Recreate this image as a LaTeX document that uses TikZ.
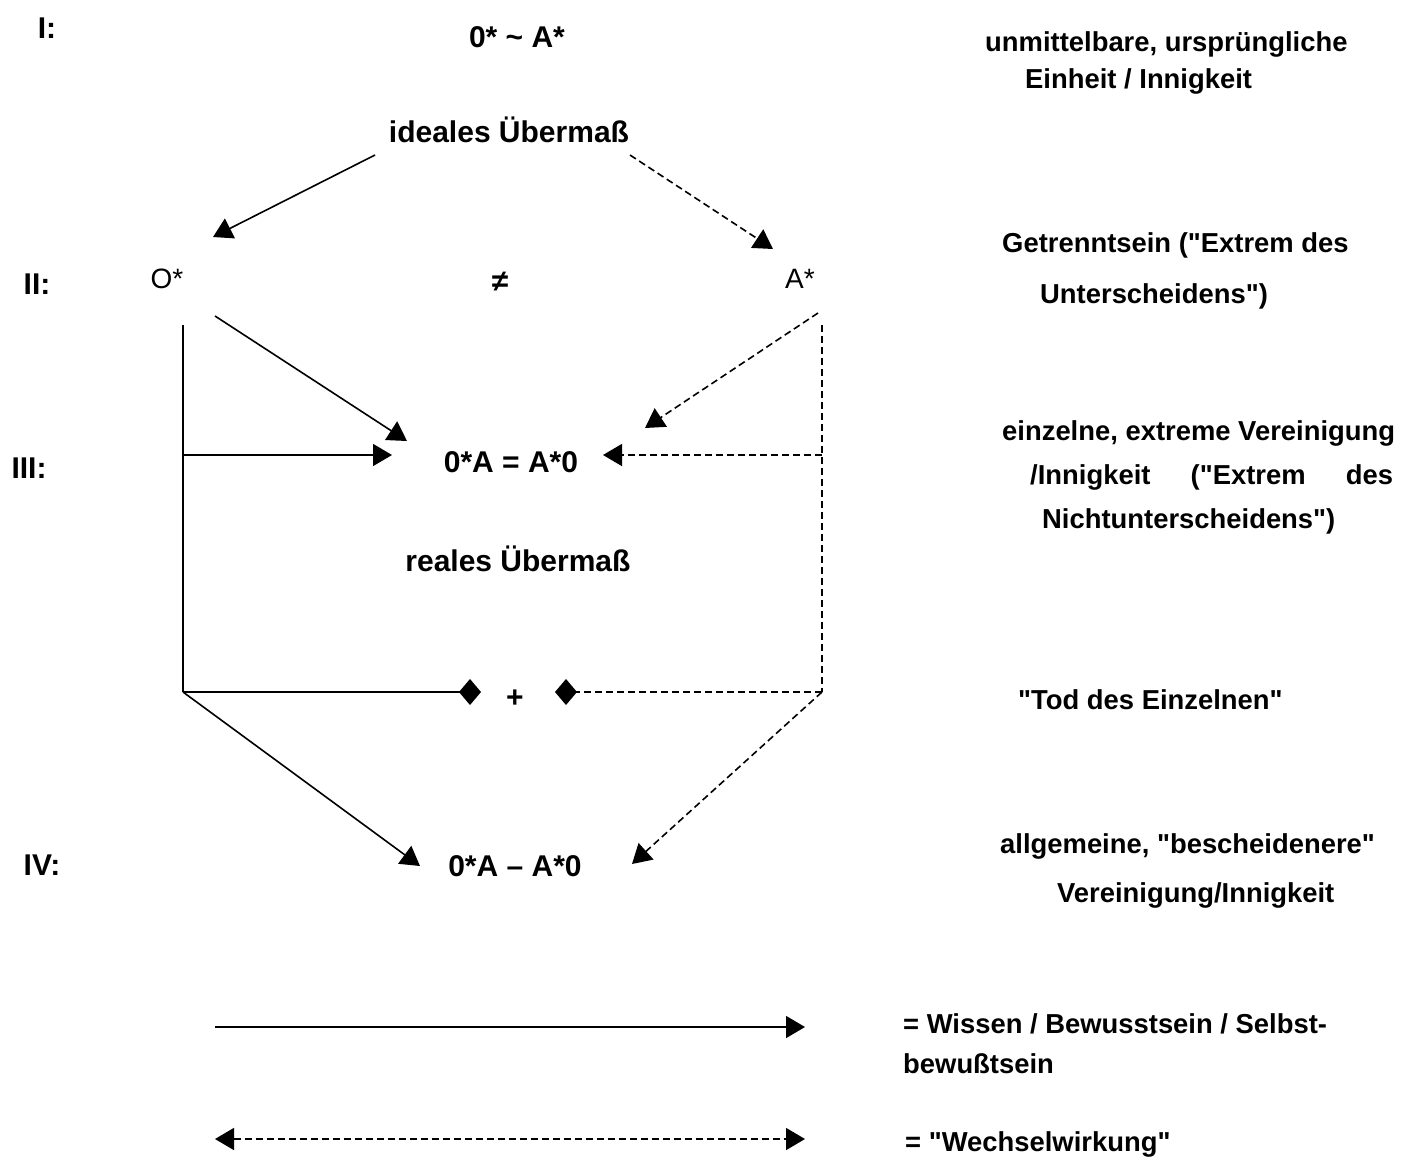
\documentclass[tikz,border=0pt]{standalone}
\usepackage{fontspec}
\setmainfont{Liberation Sans}[Ligatures=TeXOff]
\usetikzlibrary{arrows.meta}
\tikzset{
  rtext/.style={font=\fontsize{27.4}{32}\selectfont\bfseries, anchor=west, inner sep=0pt, text height=19pt, text depth=6pt},
  ctext/.style={font=\fontsize{30}{34}\selectfont\bfseries, inner sep=0pt, text height=21pt, text depth=0pt},
  ptext/.style={font=\fontsize{28}{32}\selectfont, inner sep=0pt, text height=20pt, text depth=0pt},
  seg/.style={line width=1.6pt},
  dseg/.style={seg, dash pattern=on 7pt off 4pt},
  conn/.style={seg, -{Triangle[length=19pt,width=22pt]}},
  dconn/.style={dseg, -{Triangle[length=19pt,width=22pt]}},
  dconnb/.style={dseg, {Triangle[length=19pt,width=22pt]}-{Triangle[length=19pt,width=22pt]}},
  dmd/.style={-{Diamond[length=22pt,width=26pt]}},
}
\begin{document}
\begin{tikzpicture}[x=1pt,y=-1pt]
\useasboundingbox (0,0) rectangle (1411,1160);

% level labels
\node[ctext] (l1) at (47,28) {I:};
\node[ctext] (l2) at (37,284) {II:};
\node[ctext] (l3) at (29,468) {III:};
\node[ctext] (l4) at (42,865) {IV:};

% central labels
\node[ctext] (top) at (517,37) {0* \char"007E{} A*};
\node[ctext] (ideal) at (509,132) {ideales Übermaß};
\node[ptext] (O) at (167,278) {O*};
\node[ctext] (ne) at (500,281) {≠};
\node[ptext] (A) at (800,278) {A*};
\node[ctext] (eq) at (511,462) {0*A = A*0};
\node[ctext] (real) at (518,561) {reales Übermaß};
\node[ctext] (plus) at (515,697) {+};
\node[ctext] (gen) at (515,866) {0*A – A*0};

% right column
\node[rtext] (t1) at (985,45) {unmittelbare, ursprüngliche};
\node[rtext] (t2) at (1025,82) {Einheit / Innigkeit};
\node[rtext] (t3) at (1002,246) {Getrenntsein ("Extrem des};
\node[rtext] (t4) at (1040,297) {Unterscheidens")};
\node[rtext] (t5) at (1002,434) {einzelne, extreme Vereinigung};
\node[rtext] (t6) at (1030,478) {\makebox[363pt][s]{/Innigkeit\hfill("Extrem\hfill des}};
\node[rtext] (t7) at (1042,522) {Nichtunterscheidens")};
\node[rtext] (t8) at (1018,703) {"Tod des Einzelnen"};
\node[rtext] (t9) at (1000,847) {allgemeine, "bescheidenere"};
\node[rtext] (t10) at (1057,896) {Vereinigung/Innigkeit};
\node[rtext] (t11) at (903,1027) {= Wissen / Bewusstsein / Selbst-};
\node[rtext] (t12) at (903,1067) {bewußtsein};
\node[rtext] (t13) at (905,1145) {= "Wechselwirkung"};

% connector end points
\coordinate (s1) at (375,155);
\coordinate (e1) at (213,237);
\coordinate (s2) at (630,155);
\coordinate (e2) at (773,249);
\coordinate (s3) at (215,316);
\coordinate (e3) at (407,441);
\coordinate (s4) at (818,313);
\coordinate (e4) at (645,428);
\coordinate (lt) at (183,325);
\coordinate (lm) at (183,455);
\coordinate (lb) at (183,692);
\coordinate (rt) at (822,325);
\coordinate (rm) at (822,455);
\coordinate (rb) at (822,692);
\coordinate (e5) at (392,455);
\coordinate (e6) at (603,455);
\coordinate (d1) at (481,692);
\coordinate (d2) at (555,692);
\coordinate (e7) at (420,866);
\coordinate (e8) at (632,864);
\coordinate (g1) at (215,1027);
\coordinate (g2) at (805,1027);
\coordinate (h1) at (215,1139);
\coordinate (h2) at (805,1139);

% connectors
\draw[conn] (s1) -- (e1);
\draw[dconn] (s2) -- (e2);
\draw[conn] (s3) -- (e3);
\draw[dconn] (s4) -- (e4);
\draw[seg] (lt) -- (lb);
\draw[dseg] (rt) -- (rb);
\draw[conn] (lm) -- (e5);
\draw[dconn] (rm) -- (e6);
\draw[seg,dmd] (lb) -- (d1);
\draw[dseg,dmd] (rb) -- (d2);
\draw[conn] (lb) -- (e7);
\draw[dconn] (rb) -- (e8);

% legend
\draw[conn] (g1) -- (g2);
\draw[dconnb] (h1) -- (h2);
\end{tikzpicture}
\end{document}
